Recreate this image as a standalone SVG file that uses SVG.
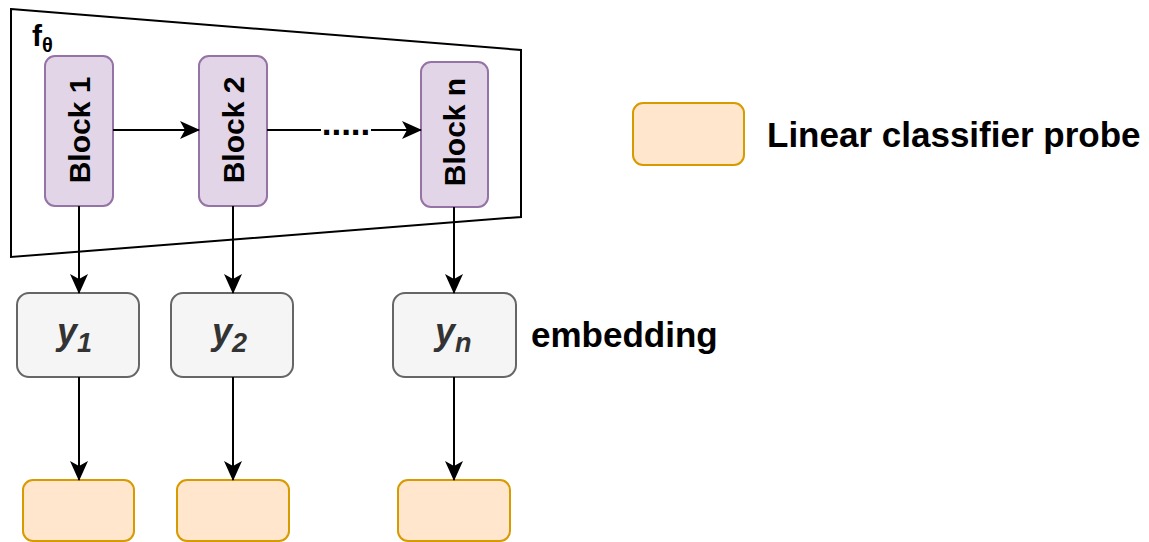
<svg xmlns="http://www.w3.org/2000/svg" width="1149" height="542" viewBox="0 0 1149 542">
  <defs>
    <marker id="arrow" markerUnits="userSpaceOnUse" markerWidth="20" markerHeight="18" refX="19" refY="9" orient="auto">
      <path d="M0,0 L20,9 L0,18 L5,9 Z" fill="#000"/>
    </marker>
    <style>
      .block { fill: #e1d5e7; stroke: #9673a6; stroke-width: 2; }
      .emb { fill: #f5f5f5; stroke: #666666; stroke-width: 2; }
      .probe { fill: #ffe6cc; stroke: #d79b00; stroke-width: 2; }
      .edge { fill: none; stroke: #000; stroke-width: 2; }
      .lbl { font-family: "Liberation Sans", Arial, sans-serif; font-weight: bold; fill: #000; }
      .blk { font-size: 30px; text-anchor: middle; }
      .y { font-size: 36px; font-style: italic; fill: #333333; }
      .ysub { font-size: 27px; }
    </style>
  </defs>

  <!-- encoder f_theta drawn as a trapezoid -->
  <g id="encoder">
    <polygon points="11,9 521,50 521,217 11,257" fill="#ffffff" stroke="#000" stroke-width="2"/>
    <text class="lbl" x="32" y="46" font-size="30">f<tspan font-size="20" dy="6">θ</tspan></text>
  </g>

  <g id="block1">
    <rect class="block" x="45" y="56" width="68" height="150" rx="10"/>
    <text class="lbl blk" transform="translate(90,130) rotate(-90)">Block 1</text>
  </g>
  <g id="block2">
    <rect class="block" x="199" y="56" width="68" height="150" rx="10"/>
    <text class="lbl blk" transform="translate(244,130) rotate(-90)">Block 2</text>
  </g>
  <g id="blockn">
    <rect class="block" x="421" y="62" width="67" height="145" rx="10"/>
    <text class="lbl blk" transform="translate(465,132) rotate(-90)">Block n</text>
  </g>

  <g id="y1">
    <rect class="emb" x="17" y="293" width="122" height="84" rx="12"/>
    <text class="lbl y" x="57" y="344">y<tspan class="ysub" dy="8">1</tspan></text>
  </g>
  <g id="y2">
    <rect class="emb" x="171" y="293" width="122" height="84" rx="12"/>
    <text class="lbl y" x="212" y="344">y<tspan class="ysub" dy="8">2</tspan></text>
  </g>
  <g id="yn">
    <rect class="emb" x="393" y="293" width="123" height="84" rx="12"/>
    <text class="lbl y" x="435" y="344">y<tspan class="ysub" dy="8">n</tspan></text>
  </g>

  <g id="probe1">
    <rect class="probe" x="23" y="480" width="111" height="61" rx="10"/>
  </g>
  <g id="probe2">
    <rect class="probe" x="177" y="480" width="112" height="61" rx="10"/>
  </g>
  <g id="proben">
    <rect class="probe" x="398" y="480" width="112" height="61" rx="10"/>
  </g>

  <g id="legend">
    <rect class="probe" x="633" y="103" width="111" height="62" rx="10"/>
    <text class="lbl" x="767" y="147" font-size="35">Linear classifier probe</text>
  </g>

  <g id="embedding-label">
    <text class="lbl" x="531" y="347" font-size="35">embedding</text>
  </g>

  <g id="connectors">
    <line class="edge" x1="113" y1="130" x2="199" y2="130" marker-end="url(#arrow)"/>
    <line class="edge" x1="267" y1="130" x2="421" y2="130" marker-end="url(#arrow)"/>
    <rect x="321" y="118" width="50" height="24" fill="#ffffff"/>
    <text class="lbl" x="346" y="135" font-size="35" text-anchor="middle">.....</text>

    <line class="edge" x1="79" y1="206" x2="79" y2="293" marker-end="url(#arrow)"/>
    <line class="edge" x1="233" y1="206" x2="233" y2="293" marker-end="url(#arrow)"/>
    <line class="edge" x1="454" y1="207" x2="454" y2="293" marker-end="url(#arrow)"/>

    <line class="edge" x1="79" y1="377" x2="79" y2="480" marker-end="url(#arrow)"/>
    <line class="edge" x1="233" y1="377" x2="233" y2="480" marker-end="url(#arrow)"/>
    <line class="edge" x1="454" y1="377" x2="454" y2="480" marker-end="url(#arrow)"/>
  </g>
</svg>
